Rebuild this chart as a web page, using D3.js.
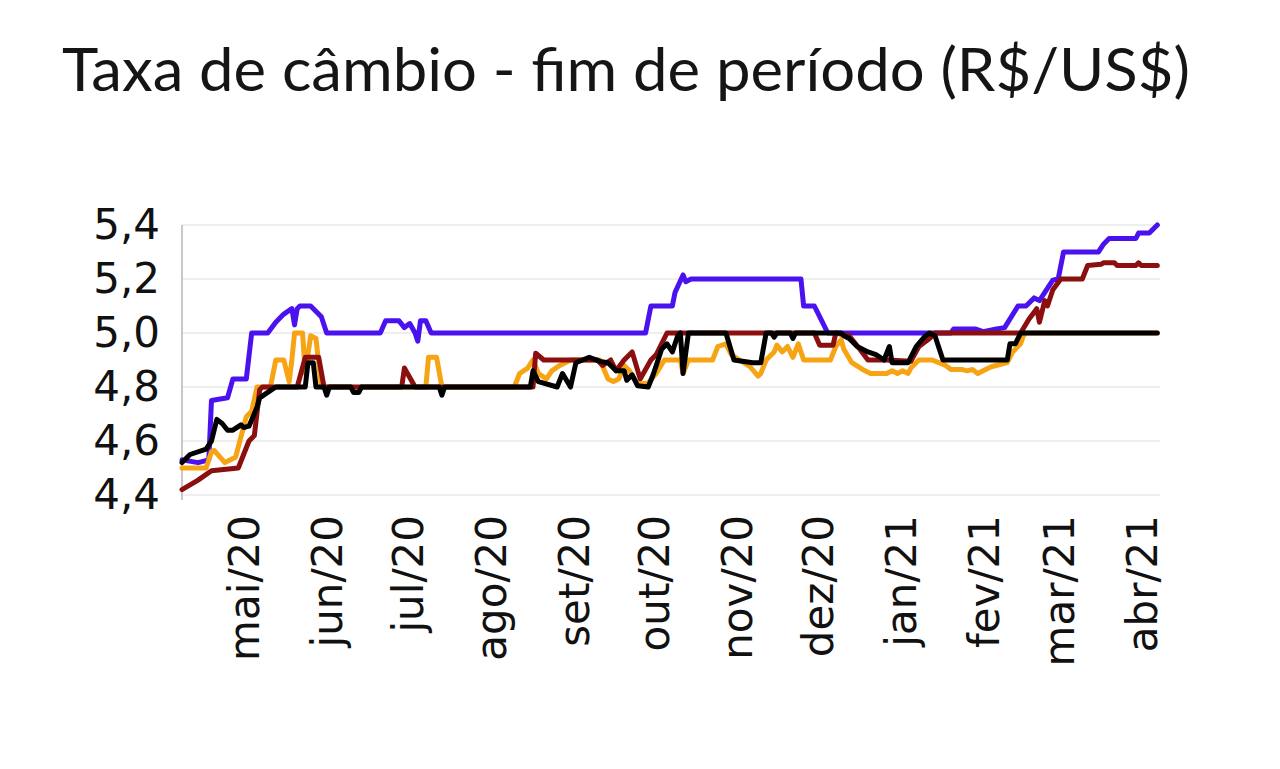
<!DOCTYPE html>
<html>
<head>
<meta charset="utf-8">
<script src="https://cdn.jsdelivr.net/npm/d3@7"></script>
<style>
  html, body { margin: 0; padding: 0; background: #ffffff; }
  svg { display: block; }
</style>
</head>
<body>
<svg id="chart" width="1280" height="769"></svg>
<script>
// ---------- DATA ----------
const titulo = "Taxa de câmbio - fim de período (R$/US$)";

const yTicks = [4.4, 4.6, 4.8, 5.0, 5.2, 5.4];

const monthTicks = ["2020-05-01","2020-06-01","2020-07-01","2020-08-01","2020-09-01","2020-10-01",
                    "2020-11-01","2020-12-01","2021-01-01","2021-02-01","2021-03-01","2021-04-01"];
const monthLabels = ["mai/20","jun/20","jul/20","ago/20","set/20","out/20",
                     "nov/20","dez/20","jan/21","fev/21","mar/21","abr/21"];

const serieRoxa = [
  ["2020-04-08",4.53],["2020-04-14",4.52],["2020-04-18",4.53],["2020-04-19",4.75],["2020-04-25",4.76],
  ["2020-04-27",4.83],["2020-05-02",4.83],["2020-05-04",5.0],["2020-05-10",5.0],["2020-05-13",5.04],
  ["2020-05-16",5.07],["2020-05-19",5.09],["2020-05-20",5.03],["2020-05-21",5.09],["2020-05-22",5.1],
  ["2020-05-26",5.1],["2020-05-30",5.06],["2020-06-01",5.0],["2020-06-21",5.0],["2020-06-23",5.045],
  ["2020-06-28",5.045],["2020-06-30",5.02],["2020-07-02",5.035],["2020-07-04",5.0],["2020-07-05",4.97],
  ["2020-07-06",5.045],["2020-07-08",5.045],["2020-07-10",5.0],["2020-09-28",5.0],["2020-09-30",5.1],
  ["2020-10-08",5.1],["2020-10-09",5.15],["2020-10-12",5.215],["2020-10-13",5.19],["2020-10-15",5.2],
  ["2020-11-25",5.2],["2020-11-26",5.1],["2020-11-30",5.1],["2020-12-03",5.04],["2020-12-05",5.0],
  ["2021-01-20",5.0],["2021-01-21",5.015],["2021-01-29",5.015],["2021-02-01",5.005],["2021-02-06",5.015],
  ["2021-02-09",5.02],["2021-02-14",5.1],["2021-02-17",5.1],["2021-02-20",5.13],["2021-02-22",5.12],
  ["2021-02-27",5.196],["2021-03-01",5.2],["2021-03-03",5.3],["2021-03-16",5.3],["2021-03-18",5.33],
  ["2021-03-20",5.35],["2021-03-30",5.35],["2021-03-31",5.37],["2021-04-04",5.37],["2021-04-07",5.4]
];

const serieLaranja = [
  ["2020-04-08",4.50],["2020-04-17",4.50],["2020-04-19",4.56],["2020-04-20",4.565],["2020-04-24",4.52],
  ["2020-04-28",4.54],["2020-05-02",4.69],["2020-05-04",4.71],["2020-05-06",4.8],["2020-05-11",4.8],
  ["2020-05-13",4.9],["2020-05-16",4.9],["2020-05-18",4.82],["2020-05-19",4.9],["2020-05-20",5.0],
  ["2020-05-23",5.0],["2020-05-24",4.85],["2020-05-26",4.99],["2020-05-28",4.98],["2020-05-30",4.8],
  ["2020-06-10",4.8],["2020-06-11",4.785],["2020-06-13",4.785],["2020-06-14",4.8],
  ["2020-07-08",4.8],["2020-07-09",4.91],["2020-07-12",4.91],["2020-07-14",4.8],
  ["2020-08-10",4.8],["2020-08-12",4.85],["2020-08-15",4.87],["2020-08-17",4.9],["2020-08-19",4.85],
  ["2020-08-22",4.83],["2020-08-24",4.86],["2020-08-27",4.88],["2020-08-31",4.9],["2020-09-11",4.9],
  ["2020-09-14",4.83],["2020-09-16",4.82],["2020-09-18",4.83],["2020-09-20",4.88],["2020-09-22",4.86],
  ["2020-09-25",4.81],["2020-09-29",4.815],["2020-10-02",4.85],["2020-10-05",4.9],["2020-10-11",4.9],
  ["2020-10-12",4.85],["2020-10-14",4.9],["2020-10-23",4.9],["2020-10-25",4.95],["2020-10-28",4.96],
  ["2020-10-30",4.92],["2020-11-02",4.9],["2020-11-06",4.875],["2020-11-09",4.84],["2020-11-10",4.85],
  ["2020-11-12",4.9],["2020-11-15",4.93],["2020-11-16",4.955],["2020-11-18",4.93],["2020-11-20",4.95],
  ["2020-11-22",4.91],["2020-11-24",4.96],["2020-11-26",4.9],["2020-12-06",4.9],["2020-12-08",4.95],
  ["2020-12-10",4.975],["2020-12-11",4.94],["2020-12-14",4.89],["2020-12-18",4.865],["2020-12-21",4.85],
  ["2020-12-27",4.85],["2020-12-29",4.86],["2020-12-31",4.85],["2021-01-02",4.86],["2021-01-04",4.85],
  ["2021-01-05",4.87],["2021-01-08",4.9],["2021-01-13",4.9],["2021-01-18",4.88],["2021-01-20",4.865],
  ["2021-01-24",4.865],["2021-01-26",4.86],["2021-01-28",4.865],["2021-01-30",4.85],["2021-02-01",4.86],
  ["2021-02-04",4.875],["2021-02-10",4.89],["2021-02-12",4.93],["2021-02-15",4.96],["2021-02-16",4.99],
  ["2021-02-17",5.0],["2021-04-07",5.0]
];

const serieVermelha = [
  ["2020-04-08",4.42],["2020-04-14",4.455],["2020-04-19",4.49],["2020-04-29",4.50],["2020-05-03",4.6],
  ["2020-05-05",4.62],["2020-05-07",4.79],["2020-05-08",4.8],["2020-05-21",4.8],["2020-05-24",4.91],
  ["2020-05-29",4.91],["2020-05-31",4.8],["2020-06-29",4.8],["2020-06-30",4.87],["2020-07-04",4.8],
  ["2020-08-17",4.8],["2020-08-18",4.925],["2020-08-21",4.9],["2020-09-10",4.9],["2020-09-12",4.88],
  ["2020-09-15",4.9],["2020-09-17",4.86],["2020-09-20",4.9],["2020-09-23",4.93],["2020-09-26",4.83],
  ["2020-09-30",4.9],["2020-10-02",4.92],["2020-10-06",5.0],["2020-11-30",5.0],["2020-12-02",4.955],
  ["2020-12-07",4.955],["2020-12-08",5.0],["2020-12-13",4.99],["2020-12-17",4.94],["2020-12-20",4.9],
  ["2020-12-27",4.9],["2021-01-05",4.895],["2021-01-08",4.95],["2021-01-12",4.98],["2021-01-14",5.0],
  ["2021-02-15",5.0],["2021-02-18",5.05],["2021-02-21",5.09],["2021-02-22",5.04],["2021-02-24",5.12],
  ["2021-02-25",5.1],["2021-02-27",5.16],["2021-03-02",5.2],["2021-03-10",5.2],["2021-03-12",5.25],
  ["2021-03-17",5.255],["2021-03-18",5.26],["2021-03-22",5.26],["2021-03-23",5.25],["2021-03-30",5.25],
  ["2021-03-31",5.26],["2021-04-01",5.25],["2021-04-07",5.25]
];

const seriePreta = [
  ["2020-04-08",4.52],["2020-04-11",4.55],["2020-04-17",4.57],["2020-04-19",4.6],["2020-04-21",4.68],
  ["2020-04-23",4.665],["2020-04-25",4.64],["2020-04-27",4.64],["2020-04-30",4.66],["2020-05-01",4.65],
  ["2020-05-03",4.655],["2020-05-06",4.725],["2020-05-07",4.76],["2020-05-10",4.78],["2020-05-13",4.8],
  ["2020-05-24",4.8],["2020-05-25",4.89],["2020-05-27",4.89],["2020-05-28",4.8],["2020-05-31",4.8],
  ["2020-06-01",4.77],["2020-06-02",4.8],["2020-06-10",4.8],["2020-06-11",4.78],["2020-06-13",4.78],
  ["2020-06-14",4.8],["2020-07-13",4.8],["2020-07-14",4.77],["2020-07-15",4.8],["2020-08-16",4.8],
  ["2020-08-17",4.86],["2020-08-19",4.82],["2020-08-26",4.8],["2020-08-28",4.85],["2020-08-31",4.8],
  ["2020-09-02",4.89],["2020-09-07",4.91],["2020-09-11",4.895],["2020-09-14",4.89],["2020-09-17",4.86],
  ["2020-09-20",4.86],["2020-09-21",4.825],["2020-09-23",4.845],["2020-09-25",4.805],["2020-09-29",4.8],
  ["2020-10-01",4.85],["2020-10-04",4.94],["2020-10-06",4.96],["2020-10-08",4.93],["2020-10-10",4.99],
  ["2020-10-11",5.0],["2020-10-12",4.85],["2020-10-14",5.0],["2020-10-28",5.0],["2020-10-31",4.9],
  ["2020-11-07",4.89],["2020-11-10",4.89],["2020-11-12",5.0],["2020-11-14",5.0],["2020-11-15",4.985],
  ["2020-11-16",5.0],["2020-11-21",5.0],["2020-11-22",4.98],["2020-11-23",5.0],["2020-12-10",5.0],
  ["2020-12-11",4.99],["2020-12-13",4.98],["2020-12-16",4.95],["2020-12-20",4.93],["2020-12-23",4.92],
  ["2020-12-26",4.9],["2020-12-28",4.95],["2020-12-29",4.89],["2021-01-01",4.89],["2021-01-04",4.89],
  ["2021-01-07",4.95],["2021-01-10",4.985],["2021-01-12",5.0],["2021-01-14",4.99],["2021-01-17",4.9],
  ["2021-02-10",4.9],["2021-02-11",4.96],["2021-02-13",4.96],["2021-02-15",5.0],["2021-04-07",5.0]
];

// ---------- DRAWING ----------
const svg = d3.select("#chart");
const parse = d3.utcParse("%Y-%m-%d");

const x = d3.scaleUtc()
  .domain([parse("2020-04-08"), parse("2021-04-08")])
  .range([182, 1160]);
const y = d3.scaleLinear().domain([4.4, 5.4]).range([495, 225]);

// title
const t = svg.append("text")
  .attr("x", 62).attr("y", 91)
  .attr("font-family", "Lato, 'Open Sans', sans-serif")
  .attr("font-size", 60)
  .attr("fill", "#151515")
  .text(titulo);
const tw = t.node().getComputedTextLength();
if (Math.abs(tw - 1128) > 10) {
  t.attr("textLength", 1128).attr("lengthAdjust", "spacingAndGlyphs");
}

// gridlines
svg.append("g").selectAll("line").data(yTicks).join("line")
  .attr("x1", 182).attr("x2", 1160)
  .attr("y1", d => y(d)).attr("y2", d => y(d))
  .attr("stroke", "#e8e8e8").attr("stroke-width", 1.5);

// y axis
const yAxis = d3.axisLeft(y).tickValues(yTicks).tickSize(0).tickPadding(22)
  .tickFormat(d => d3.format(".1f")(d).replace(".", ","));
const gy = svg.append("g").attr("transform", "translate(182,0)").call(yAxis);
gy.select(".domain").remove();
gy.selectAll("text")
  .attr("font-family", "'DejaVu Sans', sans-serif")
  .attr("font-size", 42).attr("fill", "#111");
svg.append("line").attr("x1", 182).attr("x2", 182).attr("y1", 225).attr("y2", 500)
  .attr("stroke", "#c8c8c8").attr("stroke-width", 2);

// x axis (rotated month labels)
const xAxis = d3.axisBottom(x).tickValues(monthTicks.map(parse)).tickSize(0)
  .tickFormat((d, i) => monthLabels[i]);
const gx = svg.append("g").attr("transform", "translate(0,515)").call(xAxis);
gx.select(".domain").remove();
gx.selectAll("text")
  .attr("font-family", "'DejaVu Sans', sans-serif")
  .attr("font-size", 42).attr("fill", "#111")
  .attr("transform", "rotate(-90)")
  .attr("text-anchor", "end")
  .attr("x", 0).attr("y", 0).attr("dy", "0.36em");

// lines
const line = d3.line().x(d => x(parse(d[0]))).y(d => y(d[1]));
const series = [
  { data: serieRoxa, color: "#4a12ee" },
  { data: serieLaranja, color: "#f7a414" },
  { data: serieVermelha, color: "#8c0f0f" },
  { data: seriePreta, color: "#000000" }
];
svg.append("g").selectAll("path").data(series).join("path")
  .attr("d", s => line(s.data))
  .attr("fill", "none")
  .attr("stroke", s => s.color)
  .attr("stroke-width", 5)
  .attr("stroke-linejoin", "round")
  .attr("stroke-linecap", "round");
</script>
</body>
</html>
